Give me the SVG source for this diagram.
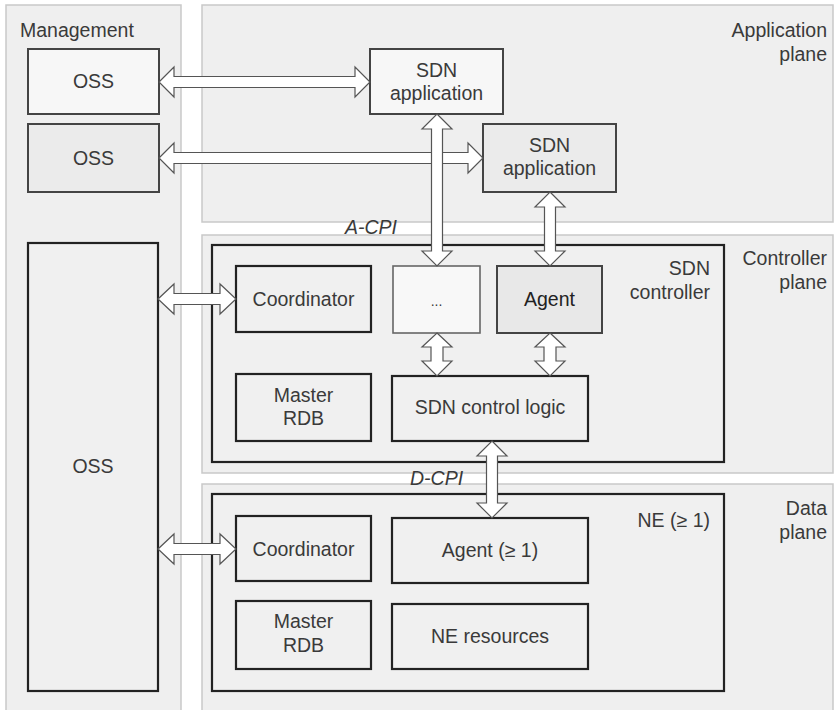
<svg xmlns="http://www.w3.org/2000/svg" width="835" height="710" viewBox="0 0 835 710">
<style>
.panel{fill:#efefef;stroke:#c9c9c9;stroke-width:1.5}
.box{fill:#f0f0f0;stroke:#222;stroke-width:2.2}
.gbox{stroke:#444;stroke-width:2}
.t{font-family:"Liberation Sans",Arial,sans-serif;font-size:19.5px;fill:#3a3a3a;text-anchor:middle}
.r{text-anchor:end}
.l{text-anchor:start}
.i{font-style:italic}
.arr{fill:#fff;stroke:#555;stroke-width:1.2;stroke-linejoin:miter}
</style>
<rect width="835" height="710" fill="#fff"/>
<g id="management-plane">
<rect class="panel" x="6" y="5" width="175" height="720"/>
<text class="t l" x="20" y="37">Management</text>
</g>
<g id="application-plane">
<rect class="panel" x="202" y="5" width="631" height="217"/>
<text class="t r" x="827" y="37">Application</text>
<text class="t r" x="827" y="61">plane</text>
</g>
<g id="controller-plane">
<rect class="panel" x="202" y="235" width="631" height="238"/>
<text class="t r" x="827" y="265">Controller</text>
<text class="t r" x="827" y="289">plane</text>
</g>
<g id="data-plane">
<rect class="panel" x="202" y="484" width="631" height="240"/>
<text class="t r" x="827" y="515">Data</text>
<text class="t r" x="827" y="539">plane</text>
</g>
<g id="oss1">
<rect class="gbox" x="28" y="49" width="131" height="65" fill="#f7f7f7"/>
<text class="t" x="93.5" y="88">OSS</text>
</g>
<g id="oss2">
<rect class="gbox" x="28" y="124" width="131" height="68" fill="#ebebeb"/>
<text class="t" x="93.5" y="165">OSS</text>
</g>
<g id="oss3">
<rect class="box" x="28" y="243" width="130" height="448"/>
<text class="t" x="93" y="473">OSS</text>
</g>
<g id="sdn-app1">
<rect class="gbox" x="370" y="49" width="133" height="65" fill="#f7f7f7"/>
<text class="t" x="436.5" y="77">SDN</text>
<text class="t" x="436.5" y="100">application</text>
</g>
<g id="sdn-app2">
<rect class="gbox" x="483" y="124" width="133" height="68" fill="#ebebeb" stroke="#333"/>
<text class="t" x="549.5" y="152">SDN</text>
<text class="t" x="549.5" y="175">application</text>
</g>
<g id="sdn-controller">
<rect class="box" x="212" y="245" width="512" height="217"/>
<text class="t r" x="710" y="275">SDN</text>
<text class="t r" x="710" y="299">controller</text>
</g>
<g id="ctrl-coordinator">
<rect class="box" x="236" y="266" width="135" height="66"/>
<text class="t" x="303.5" y="306">Coordinator</text>
</g>
<g id="ctrl-ellipsis">
<rect x="393" y="266" width="87" height="67" fill="#f8f8f8" stroke="#666" stroke-width="1.6"/>
<text class="t" x="436.5" y="306" style="font-size:14px">...</text>
</g>
<g id="ctrl-agent">
<rect class="gbox" x="497" y="266" width="105" height="67" fill="#e8e8e8"/>
<text class="t" x="549.5" y="306" fill="#222" style="fill:#222">Agent</text>
</g>
<g id="ctrl-master-rdb">
<rect class="box" x="236" y="374" width="135" height="67"/>
<text class="t" x="303.5" y="402">Master</text>
<text class="t" x="303.5" y="425">RDB</text>
</g>
<g id="ctrl-logic">
<rect class="box" x="392" y="376" width="196" height="65"/>
<text class="t" x="490" y="414">SDN control logic</text>
</g>
<g id="ne">
<rect class="box" x="212" y="494" width="512" height="197"/>
<text class="t r" x="710" y="527">NE (≥ 1)</text>
</g>
<g id="ne-coordinator">
<rect class="box" x="236" y="516" width="135" height="65"/>
<text class="t" x="303.5" y="556">Coordinator</text>
</g>
<g id="ne-agent">
<rect class="box" x="392" y="518" width="196" height="65"/>
<text class="t" x="490" y="557">Agent (≥ 1)</text>
</g>
<g id="ne-master-rdb">
<rect class="box" x="236" y="601" width="135" height="68"/>
<text class="t" x="303.5" y="628">Master</text>
<text class="t" x="303.5" y="652">RDB</text>
</g>
<g id="ne-resources">
<rect class="box" x="392" y="604" width="196" height="65"/>
<text class="t" x="490" y="643">NE resources</text>
</g>
<g id="labels">
<text class="t l i" x="345" y="234">A-CPI</text>
<text class="t l i" x="410" y="485">D-CPI</text>
</g>
<g id="connectors">
<path class="arr" d="M159,82 L174,67 L174,76.5 L355,76.5 L355,67 L370,82 L355,97 L355,87.5 L174,87.5 L174,97 Z"/>
<path class="arr" d="M159,158 L174,143 L174,152.5 L468,152.5 L468,143 L483,158 L468,173 L468,163.5 L174,163.5 L174,173 Z"/>
<path class="arr" d="M437,114 L452,129 L442.5,129 L442.5,251 L452,251 L437,266 L422,251 L431.5,251 L431.5,129 L422,129 Z"/>
<path class="arr" d="M550,192 L565,207 L555.5,207 L555.5,251 L565,251 L550,266 L535,251 L544.5,251 L544.5,207 L535,207 Z"/>
<path class="arr" d="M158,299 L174,284 L174,293.5 L220,293.5 L220,284 L236,299 L220,314 L220,304.5 L174,304.5 L174,314 Z"/>
<path class="arr" d="M437,333 L452,347 L443,347 L443,361 L452,361 L437,376 L422,361 L431,361 L431,347 L422,347 Z"/>
<path class="arr" d="M550,333 L565,347 L556,347 L556,361 L565,361 L550,376 L535,361 L544,361 L544,347 L535,347 Z"/>
<path class="arr" d="M492,441 L507,456 L497.5,456 L497.5,503 L507,503 L492,518 L477,503 L486.5,503 L486.5,456 L477,456 Z"/>
<path class="arr" d="M158,549 L174,534 L174,543.5 L220,543.5 L220,534 L236,549 L220,564 L220,554.5 L174,554.5 L174,564 Z"/>
</g>
</svg>
